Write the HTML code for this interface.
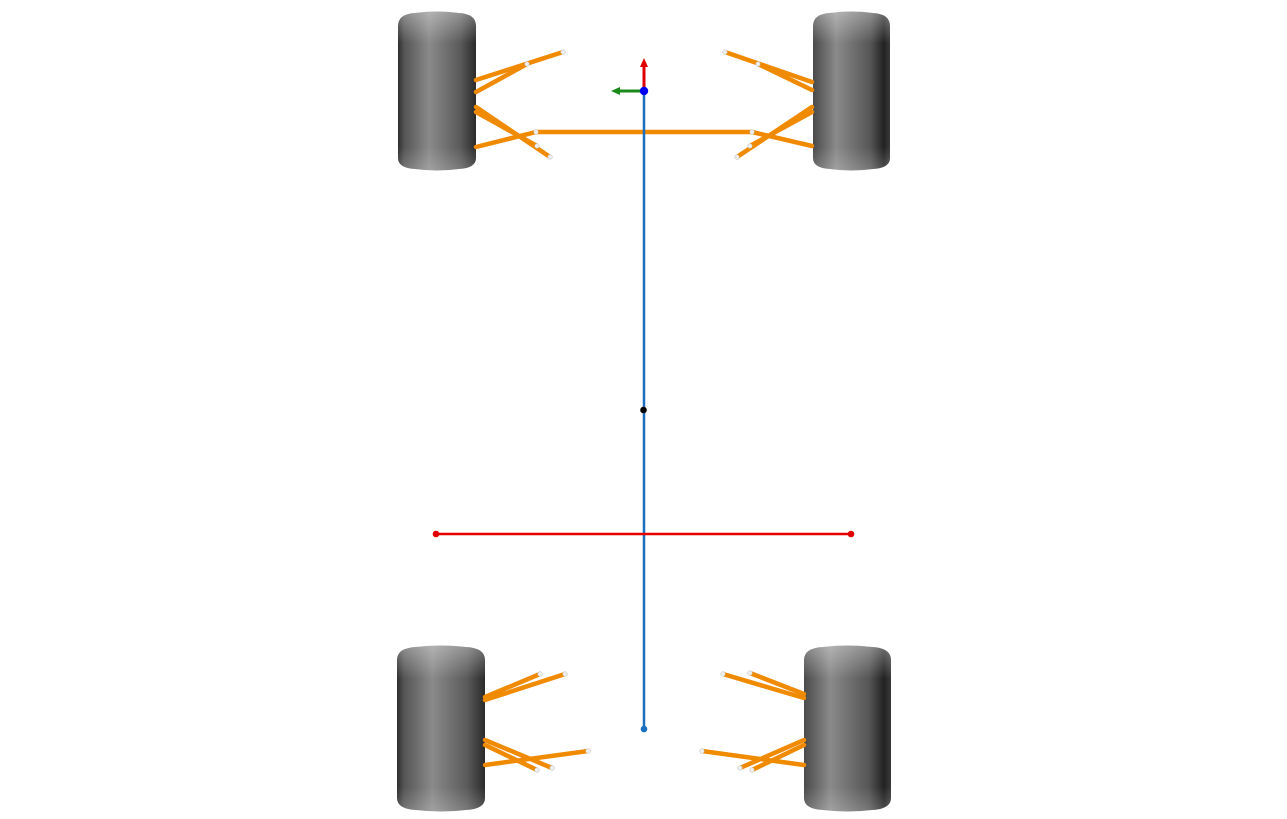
<!DOCTYPE html>
<html><head><meta charset="utf-8"><style>html,body{margin:0;padding:0;background:#fff}svg{display:block}</style></head>
<body>
<svg width="1287" height="819" viewBox="0 0 1287 819" xmlns="http://www.w3.org/2000/svg">
<defs>
<linearGradient id="gl" x1="0" x2="1" y1="0" y2="0">
<stop offset="0" stop-color="#2e2e2e"/><stop offset="0.08" stop-color="#555"/><stop offset="0.4" stop-color="#8a8a8a"/><stop offset="0.8" stop-color="#5a5a5a"/><stop offset="1" stop-color="#2a2a2a"/>
</linearGradient>
<linearGradient id="gr" x1="0" x2="1" y1="0" y2="0">
<stop offset="0" stop-color="#4a4a4a"/><stop offset="0.3" stop-color="#8a8a8a"/><stop offset="0.75" stop-color="#555"/><stop offset="0.92" stop-color="#222"/><stop offset="1" stop-color="#3a3a3a"/>
</linearGradient>
<linearGradient id="gv" x1="0" x2="0" y1="0" y2="1">
<stop offset="0" stop-color="#fff" stop-opacity="0.35"/><stop offset="0.2" stop-color="#fff" stop-opacity="0"/><stop offset="0.85" stop-color="#fff" stop-opacity="0"/><stop offset="1" stop-color="#fff" stop-opacity="0.2"/>
</linearGradient>
</defs>
<!-- wheels -->
<g>
<path d="M398,26 Q398,14 415,13 Q437,10 459,13 Q476,14 476,26 L476,158 Q476,168 459,169 Q437,172 415,169 Q398,168 398,158 Z" fill="url(#gl)"/>
<path d="M398,26 Q398,14 415,13 Q437,10 459,13 Q476,14 476,26 L476,158 Q476,168 459,169 Q437,172 415,169 Q398,168 398,158 Z" fill="url(#gv)"/>
<path d="M813,26 Q813,14 830,13 Q851,10 873,13 Q890,14 890,26 L890,158 Q890,168 873,169 Q851,172 830,169 Q813,168 813,158 Z" fill="url(#gr)"/>
<path d="M813,26 Q813,14 830,13 Q851,10 873,13 Q890,14 890,26 L890,158 Q890,168 873,169 Q851,172 830,169 Q813,168 813,158 Z" fill="url(#gv)"/>
<path d="M397,660 Q397,648 416,647 Q441,644 466,647 Q485,648 485,660 L485,798 Q485,809 466,810 Q441,813 416,810 Q397,809 397,798 Z" fill="url(#gl)"/>
<path d="M397,660 Q397,648 416,647 Q441,644 466,647 Q485,648 485,660 L485,798 Q485,809 466,810 Q441,813 416,810 Q397,809 397,798 Z" fill="url(#gv)"/>
<path d="M804,660 Q804,648 823,647 Q847,644 872,647 Q891,648 891,660 L891,798 Q891,809 872,810 Q847,813 823,810 Q804,809 804,798 Z" fill="url(#gr)"/>
<path d="M804,660 Q804,648 823,647 Q847,644 872,647 Q891,648 891,660 L891,798 Q891,809 872,810 Q847,813 823,810 Q804,809 804,798 Z" fill="url(#gv)"/>
</g>
<!-- links -->
<g stroke="#f08a00" stroke-width="4.5" stroke-linecap="round" fill="none">
<line x1="476" y1="80" x2="563" y2="52"/><line x1="476" y1="92" x2="527" y2="64"/>
<line x1="476" y1="107" x2="550" y2="157"/><line x1="476" y1="112" x2="537" y2="146"/>
<line x1="476" y1="147" x2="536" y2="132"/>
<line x1="536" y1="132" x2="751" y2="132"/>
<line x1="812" y1="82" x2="725" y2="52"/><line x1="812" y1="90" x2="758" y2="64"/>
<line x1="812" y1="107" x2="737" y2="157"/><line x1="812" y1="112" x2="750" y2="146"/>
<line x1="812" y1="146" x2="752" y2="132"/>
<line x1="485" y1="697" x2="540" y2="674"/><line x1="485" y1="700" x2="565" y2="674"/>
<line x1="485" y1="740" x2="552" y2="768"/><line x1="485" y1="745" x2="537" y2="770"/>
<line x1="485" y1="765" x2="588" y2="751"/>
<line x1="804" y1="698" x2="723" y2="674"/><line x1="804" y1="694" x2="750" y2="673"/>
<line x1="804" y1="765" x2="702" y2="751"/>
<line x1="804" y1="740" x2="740" y2="768"/><line x1="804" y1="745" x2="752" y2="770"/>
</g>
<g fill="#eee" stroke="#bbb" stroke-width="0.5">
<circle cx="563" cy="52" r="2.3"/><circle cx="527" cy="64" r="2.3"/><circle cx="550" cy="157" r="2.3"/><circle cx="537" cy="146" r="2.3"/><circle cx="536" cy="132" r="2.3"/>
<circle cx="725" cy="52" r="2.3"/><circle cx="758" cy="64" r="2.3"/><circle cx="737" cy="157" r="2.3"/><circle cx="750" cy="146" r="2.3"/><circle cx="752" cy="132" r="2.3"/>
<circle cx="540" cy="674" r="2.3"/><circle cx="565" cy="674" r="2.3"/><circle cx="552" cy="768" r="2.3"/><circle cx="537" cy="770" r="2.3"/><circle cx="588" cy="751" r="2.3"/>
<circle cx="723" cy="674" r="2.3"/><circle cx="750" cy="673" r="2.3"/><circle cx="702" cy="751" r="2.3"/><circle cx="740" cy="768" r="2.3"/><circle cx="752" cy="770" r="2.3"/>
</g>
<!-- centre line -->
<line x1="644" y1="91" x2="644" y2="729" stroke="#1a6fc0" stroke-width="2.5"/>
<line x1="436" y1="534" x2="851" y2="534" stroke="#e60000" stroke-width="2.5"/>
<circle cx="436" cy="534" r="3.3" fill="#e00000"/><circle cx="851" cy="534" r="3.3" fill="#e00000"/>
<circle cx="643.5" cy="410" r="3.3" fill="#000"/>
<circle cx="644" cy="729" r="3.3" fill="#1a6fc0"/>
<!-- axes -->
<line x1="644" y1="91" x2="644" y2="66" stroke="#e00000" stroke-width="3"/>
<polygon points="644,58 640,67 648,67" fill="#e00000"/>
<line x1="644" y1="91" x2="619" y2="91" stroke="#1a8a1a" stroke-width="3"/>
<polygon points="611,91 620,87 620,95" fill="#1a8a1a"/>
<circle cx="644" cy="91" r="4.2" fill="#0000ee"/>
</svg>
</body></html>
